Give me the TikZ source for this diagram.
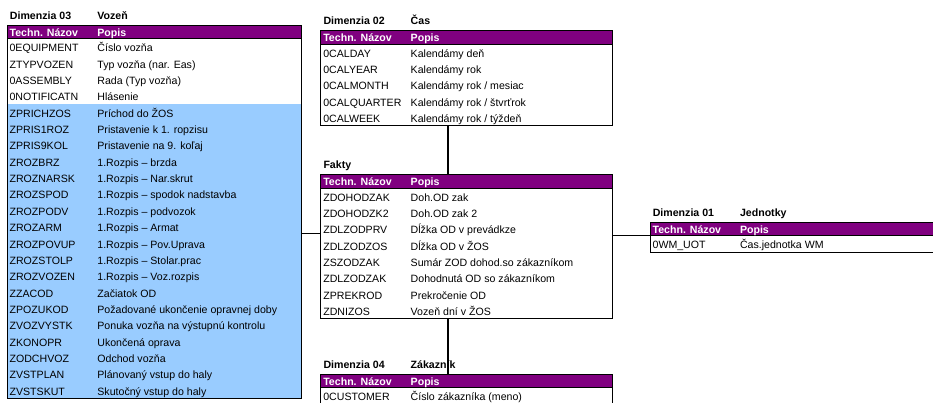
\documentclass[tikz,border=0pt]{standalone}
\usepackage{fontspec}
\setmainfont{Liberation Sans}
\usetikzlibrary{calc}
\definecolor{headpurple}{RGB}{128,0,128}
\definecolor{rowblue}{RGB}{153,204,255}
\tikzset{
  bandfill/.style={anchor=north west, inner sep=0pt, outer sep=0pt, draw=none},
  headbox/.style={anchor=north west, inner sep=0pt, outer sep=0pt, fill=headpurple, draw=black, line width=1pt},
  tblframe/.style={anchor=north west, inner sep=0pt, outer sep=0pt, draw=black, line width=1pt},
  celltext/.style={anchor=base west, inner sep=0pt, font=\fontsize{10.6}{12}\selectfont},
  headtext/.style={celltext, text=white, font=\bfseries\fontsize{10.6}{12}\selectfont},
  titletext/.style={celltext, font=\bfseries\fontsize{10.6}{12}\selectfont},
  link/.style={draw=black, line width=1.6pt}
}
\begin{document}
\begin{tikzpicture}[x=1pt,y=-1pt]
\useasboundingbox (0,0) rectangle (933,403);
\clip (0,0) rectangle (933,403);

% ---------- Dimenzia 03 : Vozen
\node[bandfill, fill=rowblue, minimum width=294.7pt, minimum height=294.3pt] (vozen-blue) at (7,104.2) {};
\node[headbox, minimum width=294.7pt, minimum height=13.5pt] (vozen-head) at (7,25.3) {};
\node[tblframe, minimum width=294.7pt, minimum height=373.2pt] (vozen) at (7,25.3) {};
\node[titletext] (vozen-t1) at (9.7,19.1) {Dimenzia 03};
\node[titletext] (vozen-t2) at (97.2,19.1) {Vozeň};
\node[headtext] (vozen-h1) at (9.4,36.1) {Techn. Názov};
\node[headtext] (vozen-h2) at (97.2,36.1) {Popis};
\foreach \code/\desc [count=\i from 0] in {
  {0EQUIPMENT}/{Číslo vozňa},
  {ZTYPVOZEN}/{Typ vozňa (nar. Eas)},
  {0ASSEMBLY}/{Rada (Typ vozňa)},
  {0NOTIFICATN}/{Hlásenie},
  {ZPRICHZOS}/{Príchod do ŽOS},
  {ZPRIS1ROZ}/{Pristavenie k 1. ropzisu},
  {ZPRIS9KOL}/{Pristavenie na 9. koľaj},
  {ZROZBRZ}/{1.Rozpis – brzda},
  {ZROZNARSK}/{1.Rozpis – Nar.skrut},
  {ZROZSPOD}/{1.Rozpis – spodok nadstavba},
  {ZROZPODV}/{1.Rozpis – podvozok},
  {ZROZARM}/{1.Rozpis – Armat},
  {ZROZPOVUP}/{1.Rozpis – Pov.Uprava},
  {ZROZSTOLP}/{1.Rozpis – Stolar.prac},
  {ZROZVOZEN}/{1.Rozpis – Voz.rozpis},
  {ZZACOD}/{Začiatok OD},
  {ZPOZUKOD}/{Požadované ukončenie opravnej doby},
  {ZVOZVYSTK}/{Ponuka vozňa na výstupnú kontrolu},
  {ZKONOPR}/{Ukončená oprava},
  {ZODCHVOZ}/{Odchod vozňa},
  {ZVSTPLAN}/{Plánovaný vstup do haly},
  {ZVSTSKUT}/{Skutočný vstup do haly}} {
  \node[celltext] (vozen-c\i) at (9.4,{51.8+16.35*\i}) {\code};
  \node[celltext] (vozen-d\i) at (97.2,{51.8+16.35*\i}) {\desc};
}

% ---------- Dimenzia 02 : Cas
\node[headbox, minimum width=292pt, minimum height=13.5pt] (cas-head) at (320.7,30.6) {};
\node[tblframe, minimum width=292pt, minimum height=95.25pt] (cas) at (320.7,30.6) {};
\node[titletext] (cas-t1) at (323.3,24.4) {Dimenzia 02};
\node[titletext] (cas-t2) at (410.5,24.4) {Čas};
\node[headtext] (cas-h1) at (323.1,41.4) {Techn. Názov};
\node[headtext] (cas-h2) at (410.5,41.4) {Popis};
\foreach \code/\desc [count=\i from 0] in {
  {0CALDAY}/{Kalendámy deň},
  {0CALYEAR}/{Kalendámy rok},
  {0CALMONTH}/{Kalendámy rok / mesiac},
  {0CALQUARTER}/{Kalendámy rok / štvrťrok},
  {0CALWEEK}/{Kalendámy rok / týždeň}} {
  \node[celltext] (cas-c\i) at (323.1,{57.1+16.35*\i}) {\code};
  \node[celltext] (cas-d\i) at (410.5,{57.1+16.35*\i}) {\desc};
}

% ---------- Fakty
\node[headbox, minimum width=292pt, minimum height=13.5pt] (fakty-head) at (320.7,174.6) {};
\node[tblframe, minimum width=292pt, minimum height=144.3pt] (fakty) at (320.7,174.6) {};
\node[titletext] (fakty-t1) at (323.3,168.4) {Fakty};
\node[headtext] (fakty-h1) at (323.1,185.4) {Techn. Názov};
\node[headtext] (fakty-h2) at (410.5,185.4) {Popis};
\foreach \code/\desc [count=\i from 0] in {
  {ZDOHODZAK}/{Doh.OD zak},
  {ZDOHODZK2}/{Doh.OD zak 2},
  {ZDLZODPRV}/{Dĺžka OD v prevádkze},
  {ZDLZODZOS}/{Dĺžka OD v ŽOS},
  {ZSZODZAK}/{Sumár ZOD dohod.so zákazníkom},
  {ZDLZODZAK}/{Dohodnutá OD so zákazníkom},
  {ZPREKROD}/{Prekročenie OD},
  {ZDNIZOS}/{Vozeň dní v ŽOS}} {
  \node[celltext] (fakty-c\i) at (323.1,{201.1+16.35*\i}) {\code};
  \node[celltext] (fakty-d\i) at (410.5,{201.1+16.35*\i}) {\desc};
}

% ---------- Dimenzia 01 : Jednotky
\node[headbox, minimum width=300pt, minimum height=13.5pt] (jednotky-head) at (650,222.3) {};
\node[tblframe, minimum width=300pt, minimum height=29.85pt] (jednotky) at (650,222.3) {};
\node[titletext] (jednotky-t1) at (652.6,216.1) {Dimenzia 01};
\node[titletext] (jednotky-t2) at (739.8,216.1) {Jednotky};
\node[headtext] (jednotky-h1) at (652.4,233.1) {Techn. Názov};
\node[headtext] (jednotky-h2) at (739.8,233.1) {Popis};
\node[celltext] (jednotky-c0) at (652.4,248.8) {0WM\_UOT};
\node[celltext] (jednotky-d0) at (739.8,248.8) {Čas.jednotka WM};

% ---------- Dimenzia 04 : Zakaznik
\node[headbox, minimum width=292pt, minimum height=13.5pt] (zakaznik-head) at (320.7,374.3) {};
\node[tblframe, minimum width=292pt, minimum height=46.2pt] (zakaznik) at (320.7,374.3) {};
\node[titletext] (zakaznik-t1) at (323.3,368.1) {Dimenzia 04};
\node[titletext] (zakaznik-t2) at (410.5,368.1) {Zákazník};
\node[headtext] (zakaznik-h1) at (323.1,385.1) {Techn. Názov};
\node[headtext] (zakaznik-h2) at (410.5,385.1) {Popis};
\node[celltext] (zakaznik-c0) at (323.1,400.8) {0CUSTOMER};
\node[celltext] (zakaznik-d0) at (410.5,400.8) {Číslo zákazníka (meno)};

% ---------- links between the dimension tables and the fact table
\coordinate (vx) at (448,0);
\coordinate (hl) at (0,233.5);
\coordinate (hr) at (0,235.5);
\draw[link] (cas.south -| vx) -- (fakty.north -| vx);
\draw[link] (fakty.south -| vx) -- (zakaznik.north -| vx);
\draw[link] (vozen.east |- hl) -- (fakty.west |- hl);
\draw[link] (fakty.east |- hr) -- (jednotky.west |- hr);
\end{tikzpicture}
\end{document}
